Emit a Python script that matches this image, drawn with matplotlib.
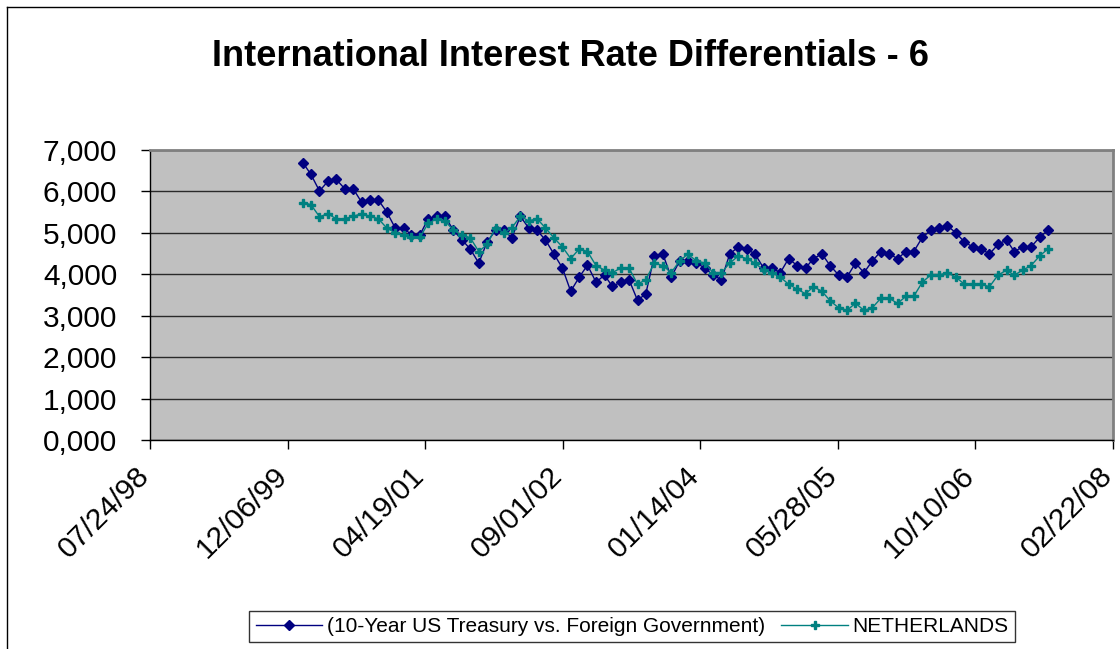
import matplotlib; matplotlib.use('Agg')
import matplotlib.pyplot as plt
import matplotlib.dates as mdates
from matplotlib.lines import Line2D
from matplotlib.transforms import ScaledTranslation
import pandas as pd
import numpy as np

plt.rcParams['font.family'] = ['Liberation Sans', 'DejaVu Sans']

# monthly observations, month-end
dates = pd.date_range('2000-01-31', periods=90, freq='ME')

us_10y = [
    6.69, 6.41, 6.01, 6.24, 6.29, 6.07, 6.07, 5.74, 5.79, 5.79, 5.51, 5.12, 5.12, 4.95, 4.95,
    5.34, 5.40, 5.40, 5.06, 4.83, 4.61, 4.27, 4.78, 5.06, 5.06, 4.88, 5.40, 5.12, 5.06, 4.83,
    4.49, 4.15, 3.59, 3.93, 4.22, 3.81, 3.98, 3.71, 3.81, 3.87, 3.37, 3.53, 4.44, 4.49, 3.93,
    4.32, 4.32, 4.27, 4.15, 3.98, 3.87, 4.49, 4.66, 4.61, 4.49, 4.15, 4.15, 4.04, 4.38, 4.21,
    4.15, 4.38, 4.49, 4.21, 3.98, 3.93, 4.27, 4.04, 4.32, 4.55, 4.49, 4.38, 4.55, 4.55, 4.89,
    5.06, 5.12, 5.17, 5.00, 4.78, 4.66, 4.61, 4.49, 4.72, 4.83, 4.55, 4.66, 4.66, 4.89, 5.06,
]
netherlands = [
    5.73, 5.68, 5.39, 5.46, 5.34, 5.34, 5.40, 5.46, 5.40, 5.34, 5.12, 5.00, 4.95, 4.89, 4.89,
    5.23, 5.34, 5.29, 5.06, 4.95, 4.88, 4.55, 4.72, 5.12, 5.00, 5.12, 5.40, 5.29, 5.34, 5.12,
    4.88, 4.66, 4.38, 4.61, 4.55, 4.21, 4.10, 4.04, 4.15, 4.15, 3.76, 3.87, 4.27, 4.21, 4.04,
    4.32, 4.49, 4.32, 4.27, 4.04, 4.04, 4.27, 4.44, 4.38, 4.27, 4.10, 4.04, 3.93, 3.76, 3.64,
    3.53, 3.70, 3.59, 3.36, 3.19, 3.13, 3.30, 3.13, 3.19, 3.42, 3.42, 3.30, 3.47, 3.47, 3.81,
    3.98, 3.98, 4.04, 3.93, 3.76, 3.76, 3.76, 3.70, 3.98, 4.10, 3.98, 4.10, 4.21, 4.44, 4.61,
]
series_names = ['(10-Year US Treasury vs. Foreign Government)', 'NETHERLANDS']
title = 'International Interest Rate Differentials - 6'

NAVY = '#000080'; TEAL = '#008080'; PLOTBG = '#C0C0C0'; FRAME = '#808080'

W, H = 1120, 649
fig = plt.figure(figsize=(W/100, H/100), dpi=100)
fig.patch.set_facecolor('white')

# chart-area frame (only top and left edges fall inside the image)
fig.add_artist(Line2D([7/W, 7/W], [0, 1-7/H], color='black', lw=1))
fig.add_artist(Line2D([7/W, 1], [1-7/H, 1-7/H], color='black', lw=1))

ax = fig.add_axes([150/W, 1-440/H, 963/W, 290/H])
ax.set_facecolor(PLOTBG)

ax.plot(dates, us_10y, color=NAVY, lw=1, marker='D', ms=5, mec=NAVY, mfc=NAVY,
        label=series_names[0], zorder=3)
ax.plot(dates, netherlands, color=TEAL, lw=1, marker='P', ms=6, mec=TEAL, mfc=TEAL,
        label=series_names[1], zorder=3)

# x axis: Excel serial 36000..39500, step 500 days
x0 = pd.Timestamp('1998-07-24')
ticks = [x0 + pd.Timedelta(days=500*i) for i in range(8)]
ax.set_xlim(ticks[0], ticks[-1])
ax.set_xticks(ticks)
ax.xaxis.set_major_formatter(mdates.DateFormatter('%m/%d/%y'))

ax.set_ylim(0, 7)
ax.set_yticks(np.arange(0, 8, 1))
ax.set_yticklabels([f"{v:.3f}".replace('.', ',') for v in range(8)])

ax.grid(axis='y', color='#2a2a2a', lw=1)
ax.set_axisbelow(True)
for s in ('top', 'right'):
    ax.spines[s].set_color(FRAME); ax.spines[s].set_linewidth(2)
for s in ('left', 'bottom'):
    ax.spines[s].set_color('black'); ax.spines[s].set_linewidth(1)

ax.tick_params(axis='y', direction='out', length=6.5, width=1, pad=17, labelsize=21.5)
ax.tick_params(axis='x', direction='out', length=6.5, width=1, pad=16, labelsize=21.5)
off = ScaledTranslation(-5/100, 0, fig.dpi_scale_trans)
for lab in ax.get_xticklabels():
    lab.set_rotation(45)
    lab.set_ha('right')
    lab.set_va('center')
    lab.set_rotation_mode('anchor')
    lab.set_transform(lab.get_transform() + off)

fig.text(570/W, 1-57/H, title, ha='center', va='center', fontsize=26, fontweight='bold')

leg = fig.legend(loc='center', bbox_to_anchor=(632/W, 1-626.5/H), ncol=2, fontsize=15,
                 frameon=True, fancybox=False, edgecolor='black', handlelength=3.2,
                 handletextpad=0.2, columnspacing=0.8, borderpad=0.3, borderaxespad=0)
leg.get_frame().set_linewidth(1)

fig.savefig('out.png', dpi=100)
